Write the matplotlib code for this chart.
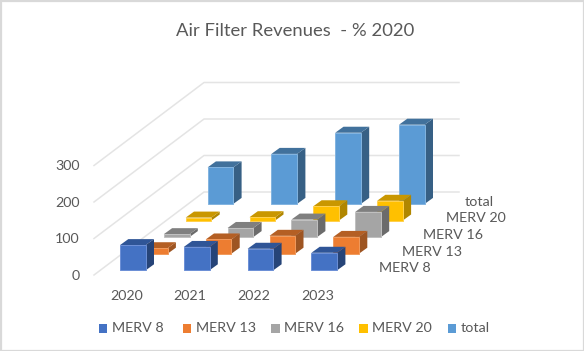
import matplotlib
matplotlib.use("Agg")
import matplotlib.pyplot as plt
from matplotlib.patches import Polygon, Rectangle

plt.rcParams['font.family'] = ['Lato', 'DejaVu Sans']

years = ['2020', '2021', '2022', '2023']
series = ['MERV 8', 'MERV 13', 'MERV 16', 'MERV 20', 'total']
merv8 = [69, 64, 59, 48]
merv13 = [15, 39, 49, 46]
merv16 = [8, 25, 48, 69]
merv20 = [8, 9, 39, 54]
total = [100, 137, 195, 217]
y_ticks = [0, 100, 200, 300]
values = [merv8, merv13, merv16, merv20, total]

front = ['#4472C4', '#ED7D31', '#A5A5A5', '#FFC000', '#5B9BD5']
top = ['#2F5597', '#B45F24', '#7F7F7F', '#C99700', '#41719C']
side = ['#264478', '#9E5522', '#6B6B6B', '#B08600', '#376085']
edge = ['#6C8FD6', '#F19A5C', '#C0C0C0', '#FFD04D', '#82B4E0']
TXT = '#595959'
FS = 10.3

fig = plt.figure(figsize=(5.84, 3.51), dpi=100, facecolor='white')
ax = fig.add_axes([0, 0, 1, 1])
ax.set_xlim(0, 584)
ax.set_ylim(351, 0)
ax.axis('off')

ax.add_patch(Rectangle((0.5, 0.5), 583, 350, fill=False, ec='#D9D9D9', lw=1.6))

PX = 0.365          # pixels per value unit
O = (94.0, 275.0)   # front-left floor corner
DEPTH = (110.0, -83.0)
WALL = 255.0
def wall(v, d=0.0, w=0.0):
    return (O[0] + d * DEPTH[0] + w, O[1] + d * DEPTH[1] - v * PX)

grid = '#E4E4E4'
for v in y_ticks:
    p0, p1 = wall(v), wall(v, 1)
    p2 = wall(v, 1, WALL)
    ax.plot([p0[0], p1[0], p2[0]], [p0[1], p1[1], p2[1]], color=grid, lw=1.1, zorder=1)
    ax.text(79.5, p0[1] + 0.8, str(v), ha='right', va='center', fontsize=FS, color=TXT)

BW, DX, DY = 25.7, 8.3, -6.0
YEAR_STEP, SER_X, SER_Y = 63.8, 21.9, -16.6
X0, Y0 = 120.0, 270.3
z = 5
# paint from the back row to the front row
for s in range(len(values) - 1, -1, -1):
    for i, v in enumerate(values[s]):
        x = X0 + i * YEAR_STEP + s * SER_X
        base = Y0 + s * SER_Y
        t = base - v * PX
        ax.add_patch(Polygon([(x + BW, base), (x + BW + DX, base + DY), (x + BW + DX, t + DY), (x + BW, t)],
                             fc=side[s], ec='none', zorder=z))
        ax.add_patch(Polygon([(x, t), (x + BW, t), (x + BW + DX, t + DY), (x + DX, t + DY)],
                             fc=top[s], ec='none', zorder=z))
        ax.add_patch(Rectangle((x, t), BW, base - t, fc=front[s], ec=edge[s], lw=0.7, zorder=z + 0.5))
        z += 1

for i, y in enumerate(years):
    ax.text(126.5 + i * YEAR_STEP, 295.5, y, ha='center', va='center', fontsize=FS, color=TXT)

label_x = [379, 401.5, 423.3, 445.5, 465]
for s, name in enumerate(series):
    ax.text(label_x[s], 268 - s * 16.5, name, ha='left', va='center', fontsize=FS, color=TXT, zorder=100)

ax.text(295.5, 30.5, 'Air Filter Revenues  - % 2020', ha='center', va='center', fontsize=13.3, color=TXT)

leg_sq = [98.7, 182.5, 271, 359.4, 447.7]
for s, name in enumerate(series):
    ax.add_patch(Rectangle((leg_sq[s], 324), 8.5, 8.5, fc=front[s], ec='none'))
    ax.text(leg_sq[s] + 13, 328.3, name, ha='left', va='center', fontsize=FS, color=TXT)

fig.savefig('out.png', dpi=100)
